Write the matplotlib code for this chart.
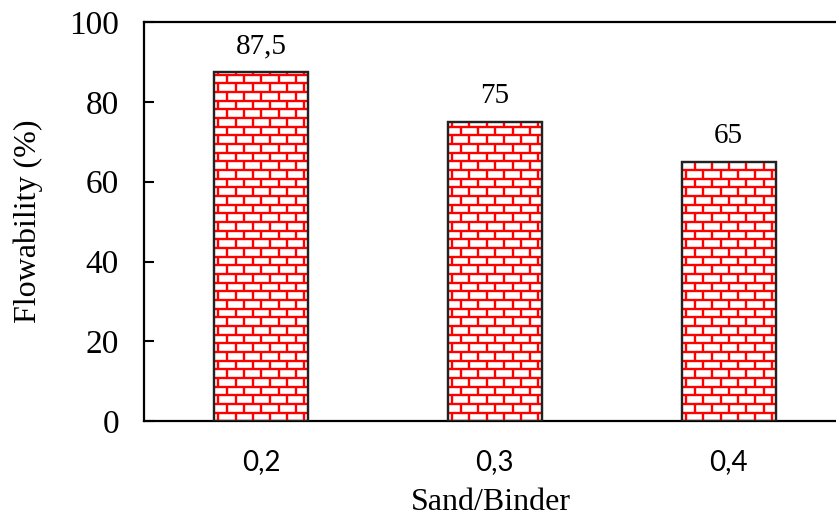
import numpy as np
import matplotlib.pyplot as plt
from matplotlib.collections import LineCollection

# data
categories = ["0,2", "0,3", "0,4"]
flowability = [87.5, 75, 65]
value_labels = ["87,5", "75", "65"]

serif = ["Liberation Serif", "DejaVu Serif"]
sans = ["Lato", "DejaVu Sans"]

fig = plt.figure(figsize=(8.37, 5.22), dpi=100)
ax = fig.add_axes([0.172, 0.193, 0.83, 0.765])

x = np.arange(len(categories))
bars = ax.bar(x, flowability, width=0.4, color="white",
              edgecolor="#222222", linewidth=1.6, zorder=3)

ax.set_xlim(-0.5, 2.47)
ax.set_ylim(0, 100)

# brick texture inside each bar (sizes in data units)
row_h = 2.17
brick_w = 0.0736
for b in bars:
    x0, w, hgt = b.get_x(), b.get_width(), b.get_height()
    segs = []
    nrows = int(np.ceil(hgt / row_h))
    for r in range(nrows + 1):
        y = r * row_h
        segs.append([(x0, y), (x0 + w, y)])
        off = 0.018 + (brick_w / 2 if r % 2 else 0)
        xs = np.arange(x0 + off, x0 + w, brick_w)
        for xv in xs:
            segs.append([(xv, y), (xv, y + row_h)])
    lc = LineCollection(segs, colors="red", linewidths=1.7, zorder=3.5)
    ax.add_collection(lc)
    lc.set_clip_path(b)
    # redraw outline on top
    ax.bar(b.get_x() + w / 2, hgt, width=w, color="none",
           edgecolor="#222222", linewidth=1.6, zorder=4)

for xi, v, lab in zip(x, flowability, value_labels):
    ax.annotate(lab, (xi, v), xytext=(0, 9), textcoords="offset points",
                ha="center", va="bottom", fontsize=21, family=serif)

ax.set_xticks(x)
ax.set_xticklabels(categories, fontsize=20, family=sans)
ax.set_yticks(np.arange(0, 101, 20))
ax.set_yticklabels([str(v) for v in range(0, 101, 20)], fontsize=24, family=serif)
ax.tick_params(axis="y", direction="in", length=7, width=1.5, pad=18)
ax.tick_params(axis="x", length=0, pad=20)

ax.set_xlabel("Sand/Binder", fontsize=23, family=serif, labelpad=9)
ax.set_ylabel("Flowability (%)", fontsize=23, family=serif, labelpad=19)

for s in ["left", "top", "bottom"]:
    ax.spines[s].set_linewidth(1.6)
ax.spines["right"].set_visible(False)

fig.savefig("out.png", dpi=100)
